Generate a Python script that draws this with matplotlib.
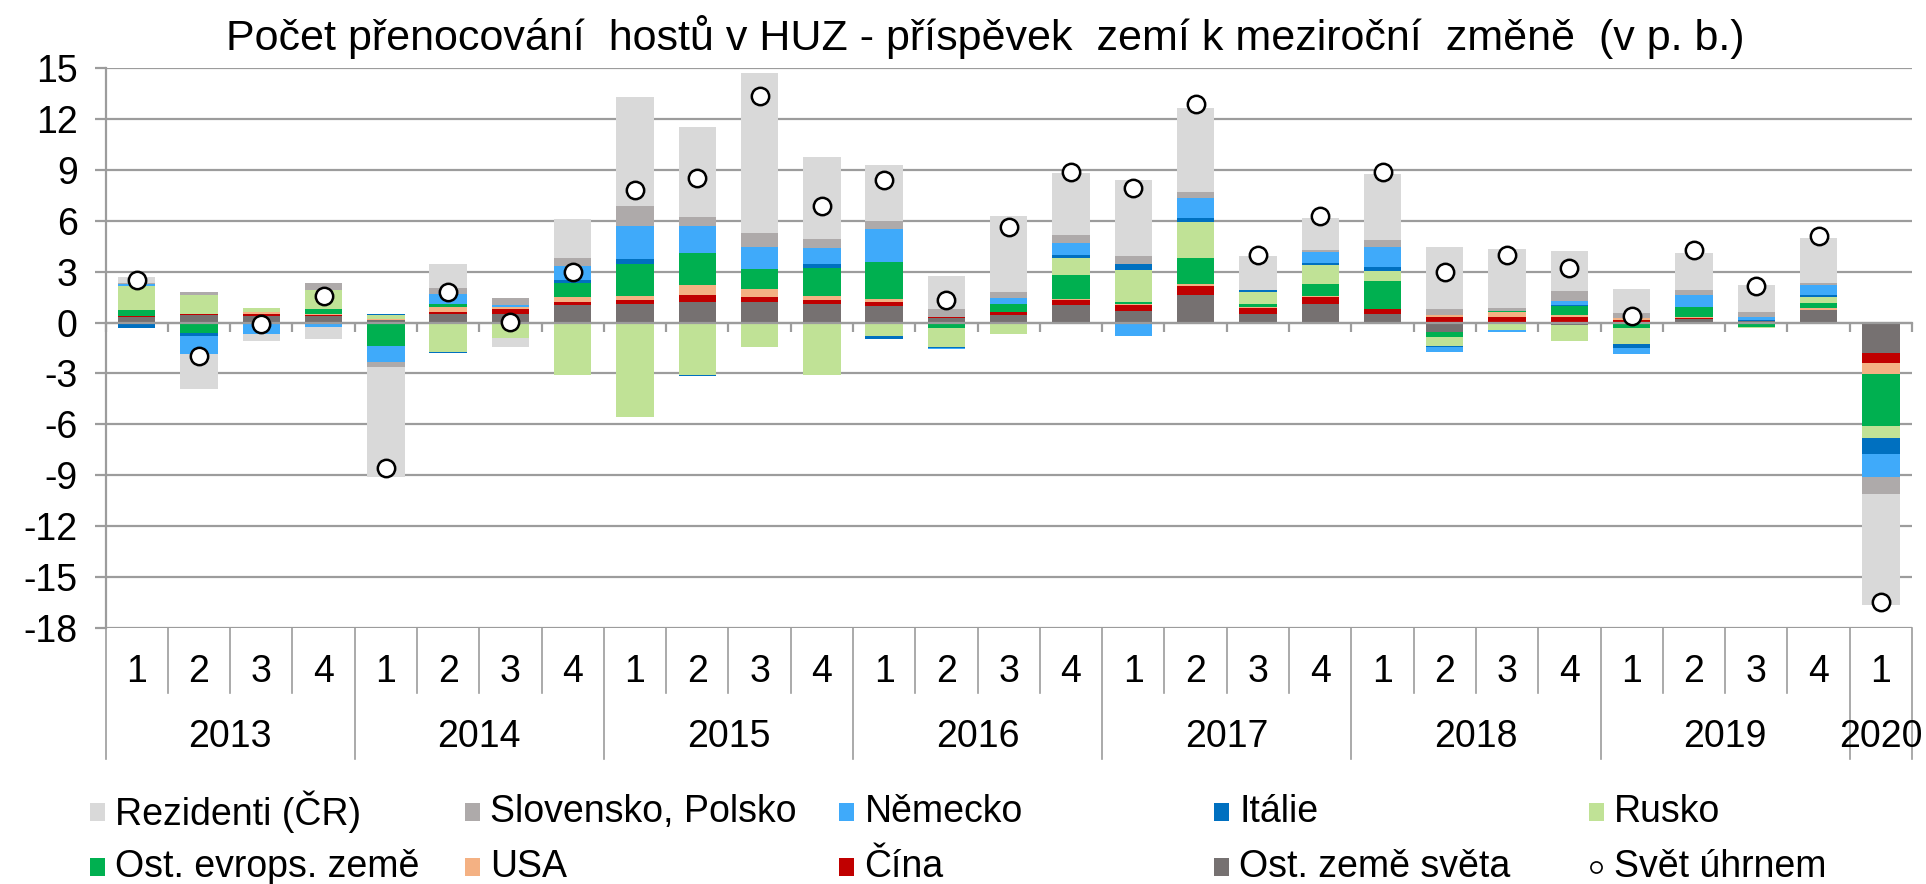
import matplotlib
matplotlib.use("Agg")
import matplotlib.pyplot as plt
import matplotlib.transforms as mtransforms
from matplotlib.patches import Rectangle
from matplotlib.lines import Line2D
import numpy as np

plt.rcParams['font.family'] = ['Liberation Sans', 'DejaVu Sans']
plt.rcParams['axes.unicode_minus'] = False

# quarters 2013Q1 .. 2020Q1
quarters = ['1', '2', '3', '4'] * 7 + ['1']
years = ['2013', '2014', '2015', '2016', '2017', '2018', '2019', '2020']

# contributions (p. b.), stacked from zero outward in this order
ost_svet = [0.3, 0.45, 0.4, 0.37, 0.15, 0.53, 0.53, 1.02, 1.08, 1.2, 1.2, 1.08, 1.0, 0.25, 0.42,
            1.02, 0.66, 1.61, 0.52, 1.12, 0.53, -0.54, 0.05, -0.15, 0.05, 0.22, 0.1, 0.71, -1.78]
cina = [0.06, 0.07, 0.1, 0.1, 0.02, 0.08, 0.24, 0.18, 0.24, 0.43, 0.31, 0.22, 0.22, 0.05, 0.2,
        0.33, 0.35, 0.54, 0.32, 0.36, 0.24, 0.35, 0.25, 0.3, 0.08, 0.03, 0.0, -0.03, -0.62]
usa = [0.05, 0.0, 0.12, 0.05, 0.02, 0.28, 0.12, 0.28, 0.24, 0.61, 0.49, 0.26, 0.15, 0.0, 0.0,
       0.05, 0.1, 0.15, 0.05, 0.11, 0.02, 0.12, 0.3, 0.14, 0.12, 0.1, 0.02, 0.14, -0.62]
ost_evr = [0.32, -0.59, 0.0, 0.3, -1.37, 0.2, 0.0, 0.83, 1.89, 1.87, 1.18, 1.63, 2.2, -0.35, 0.47,
           1.4, 0.1, 1.52, 0.2, 0.71, 1.63, -0.34, 0.1, 0.56, -0.3, 0.55, -0.25, 0.33, -3.05]
rusko = [1.45, 1.08, 0.24, 1.08, 0.25, -1.75, -0.9, -3.1, -5.58, -3.09, -1.42, -3.09, -0.77, -1.1, -0.65,
         1.02, 1.91, 2.12, 0.72, 1.07, 0.59, -0.5, -0.43, -0.95, -0.97, 0.02, -0.05, 0.35, -0.73]
italie = [-0.3, -0.18, 0.0, -0.08, 0.04, -0.05, 0.03, 0.2, 0.31, -0.05, -0.05, 0.24, -0.2, -0.05, -0.05,
          0.14, 0.31, 0.24, 0.08, 0.11, 0.24, -0.05, 0.0, 0.03, -0.22, 0.02, 0.03, 0.1, -0.93]
nemecko = [0.08, -1.06, -0.65, -0.17, -0.93, 0.6, 0.1, 0.83, 1.9, 1.56, 1.3, 0.94, 1.97, -0.08, 0.35,
           0.73, -0.77, 1.18, 0.05, 0.67, 1.18, -0.33, -0.1, 0.23, -0.37, 0.71, 0.15, 0.59, -1.4]
sk_pl = [0.05, 0.18, 0.0, 0.45, -0.32, 0.32, 0.45, 0.45, 1.18, 0.57, 0.8, 0.57, 0.46, 0.5, 0.35,
         0.47, 0.48, 0.34, 0.0, 0.12, 0.45, 0.3, 0.18, 0.58, 0.31, 0.24, 0.32, 0.1, -0.95]
rezidenti = [0.35, -2.1, -0.45, -0.73, -6.5, 1.46, -0.57, 2.3, 6.48, 5.31, 9.45, 4.84, 3.31, 1.95, 4.49,
             3.64, 4.48, 4.94, 2.0, 1.91, 3.9, 3.7, 3.45, 2.4, 1.44, 2.2, 1.62, 2.66, -6.57]
svet = [2.5, -2.0, -0.1, 1.55, -8.55, 1.8, 0.05, 3.0, 7.8, 8.5, 13.35, 6.85, 8.4, 1.3, 5.65,
        8.85, 7.9, 12.85, 4.0, 6.25, 8.85, 2.95, 4.0, 3.2, 0.4, 4.25, 2.15, 5.1, -16.45]

# (label, values, colour) in stacking order
series = [
    ('Ost. země světa', ost_svet, '#767171'),
    ('Čína', cina, '#C00000'),
    ('USA', usa, '#F4B183'),
    ('Ost. evrops. země', ost_evr, '#00B050'),
    ('Rusko', rusko, '#C0E296'),
    ('Itálie', italie, '#0070C0'),
    ('Německo', nemecko, '#3FAAFA'),
    ('Slovensko, Polsko', sk_pl, '#AEAAAA'),
    ('Rezidenti (ČR)', rezidenti, '#D9D9D9'),
]
legend_order = ['Rezidenti (ČR)', 'Slovensko, Polsko', 'Německo', 'Itálie', 'Rusko',
                'Ost. evrops. země', 'USA', 'Čína', 'Ost. země světa']

GRID = '#9C9C9C'
W, H = 1926, 884
FS = 27

fig = plt.figure(figsize=(W / 100, H / 100), dpi=100)
ax = fig.add_axes([105.5 / W, 1 - 628 / H, (1912 - 105.5) / W, 560 / H])

x = np.arange(len(quarters))
pos_bottom = np.zeros(len(x))
neg_bottom = np.zeros(len(x))
colors = {}
for name, vals, col in series:
    v = np.array(vals)
    bottom = np.where(v >= 0, pos_bottom, neg_bottom)
    ax.bar(x, v, bottom=bottom, width=0.6, color=col, linewidth=0, zorder=2)
    pos_bottom = pos_bottom + np.clip(v, 0, None)
    neg_bottom = neg_bottom + np.clip(v, None, 0)
    colors[name] = col

ax.plot(x, svet, 'o', ms=12.5, mfc='white', mec='black', mew=1.8, ls='none', zorder=5)

ax.set_xlim(-0.5, len(x) - 0.5)
ax.set_ylim(-18, 15)
ax.set_yticks(range(-18, 16, 3))
ax.yaxis.grid(True, color=GRID, lw=1.6)
ax.set_axisbelow(True)
ax.tick_params(axis='y', labelsize=FS, length=8, width=1.6, color=GRID, pad=12)

for s in ['top', 'right']:
    ax.spines[s].set_visible(False)
ax.spines['left'].set_color(GRID)
ax.spines['left'].set_linewidth(1.6)
ax.spines['bottom'].set_position(('data', 0))
ax.spines['bottom'].set_color(GRID)
ax.spines['bottom'].set_linewidth(1.6)
ax.set_xticks(np.arange(-0.5, len(x), 1))
ax.tick_params(axis='x', length=6.5, width=1.6, color=GRID, labelbottom=False)

# multi-level category labels below the plot
trans = mtransforms.blended_transform_factory(ax.transData, ax.transAxes)
for i, q in enumerate(quarters):
    ax.text(i, -0.079, q, transform=trans, ha='center', va='center', fontsize=FS)
for b in np.arange(-0.5, len(x), 1):
    idx = int(b + 0.5)
    depth = -0.234 if (idx % 4 == 0 or idx == len(x)) else -0.116
    ax.plot([b, b], [0, depth], transform=trans, color=GRID, lw=1.2, clip_on=False)
for k, yr in enumerate(years):
    start = 4 * k
    end = min(4 * k + 4, len(x))
    ax.text((start + end - 1) / 2, -0.195, yr, transform=trans, ha='center', va='center', fontsize=FS)

fig.text(985 / W, 1 - 37 / H,
         'Počet přenocování  hostů v HUZ - příspěvek  zemí k meziroční  změně  (v p. b.)',
         ha='center', va='center', fontsize=31)

# legend, 2 rows x 5 columns
entries = [(n, colors[n]) for n in legend_order] + [('Svět úhrnem', None)]
for i, (name, col) in enumerate(entries):
    cx = 90 + 374.7 * (i % 5)
    cy = 812 + 55 * (i // 5)
    if col is None:
        fig.add_artist(Line2D([(cx + 7) / W], [1 - cy / H], marker='o', ms=8, mfc='white',
                              mec='black', mew=1.2, ls='none', transform=fig.transFigure))
    else:
        fig.add_artist(Rectangle((cx / W, 1 - (cy + 9) / H), 15 / W, 18 / H,
                                 transform=fig.transFigure, color=col, lw=0))
    fig.text((cx + 25) / W, 1 - cy / H, name, ha='left', va='center', fontsize=FS)

fig.savefig('out.png', dpi=100)
